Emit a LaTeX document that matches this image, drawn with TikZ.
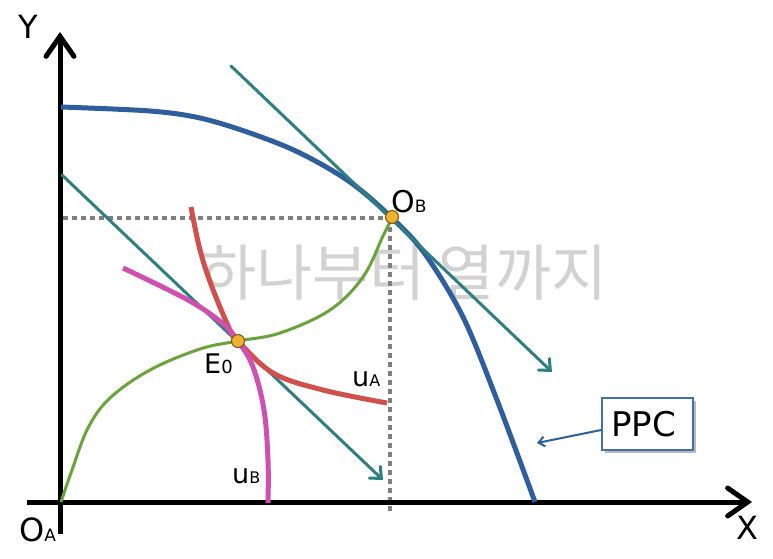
\documentclass[tikz,border=0pt]{standalone}
\usepackage{fontspec}
\setmainfont{DejaVu Sans}
\newfontfamily\krfont{Noto Sans CJK KR}
\usetikzlibrary{arrows.meta,shadows}
\definecolor{ppcblue}{HTML}{2E5E9E}
\definecolor{tealc}{HTML}{2E7F82}
\definecolor{redc}{HTML}{D0504C}
\definecolor{magc}{HTML}{D050B0}
\definecolor{greenc}{HTML}{6AA23C}
\definecolor{orangec}{HTML}{F0B030}
\definecolor{dotgray}{HTML}{7F7F7F}
\definecolor{wmgray}{HTML}{D2D2D2}
\tikzset{
  axisline/.style={line width=5pt, -{Straight Barb[length=20pt,width=28pt,line cap=round]}},
  tangentline/.style={tealc, line width=3pt, line cap=round, -{Straight Barb[length=9pt,width=16pt,line cap=round]}},
  ppcline/.style={ppcblue, line width=5pt},
  dotline/.style={dotgray, line width=4pt, dash pattern=on 4.5pt off 4.5pt},
  uacurve/.style={redc, line width=5pt},
  ubcurve/.style={magc, line width=5pt},
  contract/.style={greenc, line width=3pt},
  dotmark/.style={circle, fill=orangec, draw=orangec!50!black, line width=1pt, minimum size=13pt, inner sep=0pt},
  bigtxt/.style={inner sep=0pt, font=\fontsize{32}{36}\selectfont},
  lbl/.style={inner sep=0pt, anchor=base west},
  ppcbox/.style={draw=ppcblue!90!white, line width=1.8pt, fill=white, minimum width=91pt, minimum height=52pt, inner sep=0pt,
    font=\fontsize{34}{38}\selectfont, drop shadow={shadow xshift=2.5pt, shadow yshift=-2.5pt, opacity=0.45, fill=black!60}},
}
\begin{document}
\begin{tikzpicture}[x=1pt,y=-1pt]
\useasboundingbox (0,0) rectangle (773,559);
% watermark
\node[text=wmgray, inner sep=0pt, font=\krfont\fontsize{61}{64}\selectfont] (wm) at (404,273) {하나부터 열까지};
% key points
\coordinate (OA) at (61,502);
\coordinate (OBp) at (392,217);
\coordinate (E0p) at (238,341);
% dotted guides
\draw[dotline] (63,218) -- (390,218);
\draw[dotline] (390,218) -- (390,512);
% axes
\coordinate (xstart) at (27,502);
\coordinate (xend) at (752,502);
\coordinate (ystart) at (60,534);
\coordinate (yend) at (60,32);
\draw[axisline] (xstart) -- (xend);
\draw[axisline] (ystart) -- (yend);
% PPC
\draw[ppcline] plot[smooth, tension=0.55] coordinates {(61,107) (150,111) (200,118) (250,133) (300,153) (350,182) (392,218) (425,254) (463,317) (497,400) (535,502)};
% tangent lines
\coordinate (t1a) at (231,66);
\coordinate (t1b) at (552,372);
\coordinate (t2a) at (62,175);
\coordinate (t2b) at (383,480);
\draw[tangentline] (t1a) -- (t1b);
\draw[tangentline] (t2a) -- (t2b);
% contract curve
\draw[contract] plot[smooth, tension=0.6] coordinates {(61,502) (72,470) (88,428) (110,398) (150,370) (200,349) (238,341) (280,333) (330,310) (363,277) (383,236) (392,218)};
% indifference curves
\draw[uacurve] plot[smooth, tension=0.6] coordinates {(191,207) (200,250) (212,287) (230,330) (238,341) (273,373) (323,390) (387,403)};
\draw[ubcurve] plot[smooth, tension=0.6] coordinates {(123,268) (188,300) (222,323) (238,341) (253,367) (264,410) (268,460) (268,503)};
% points
\node[dotmark] (E0) at (E0p) {};
\node[dotmark] (OB) at (OBp) {};
% labels
\node[bigtxt] (ylab) at (28,27) {Y};
\node[bigtxt] (xlab) at (747,528) {X};
\node[lbl, font=\fontsize{32}{36}\selectfont] (oalab) at (19,541) {O{\fontsize{17}{20}\selectfont A}};
\node[lbl, font=\fontsize{30}{34}\selectfont] (oblab) at (391,212) {O{\fontsize{17}{20}\selectfont B}};
\node[lbl, font=\fontsize{27}{30}\selectfont] (e0lab) at (204,373) {E{\fontsize{18}{20}\selectfont 0}};
\node[lbl, font=\fontsize{27}{30}\selectfont] (ualab) at (352,386) {u{\fontsize{16}{20}\selectfont A}};
\node[lbl, font=\fontsize{27}{30}\selectfont] (ublab) at (232,483) {u{\fontsize{16}{20}\selectfont B}};
% PPC box
\node[ppcbox] (ppc) at (647.5,424) {\hspace*{-8pt}PPC};
\coordinate (ppctip) at (537,443);
\draw[ppcblue, line width=2pt, -{Straight Barb[length=6pt,width=10pt]}] ([yshift=-6pt]ppc.west) -- (ppctip);
\end{tikzpicture}
\end{document}
